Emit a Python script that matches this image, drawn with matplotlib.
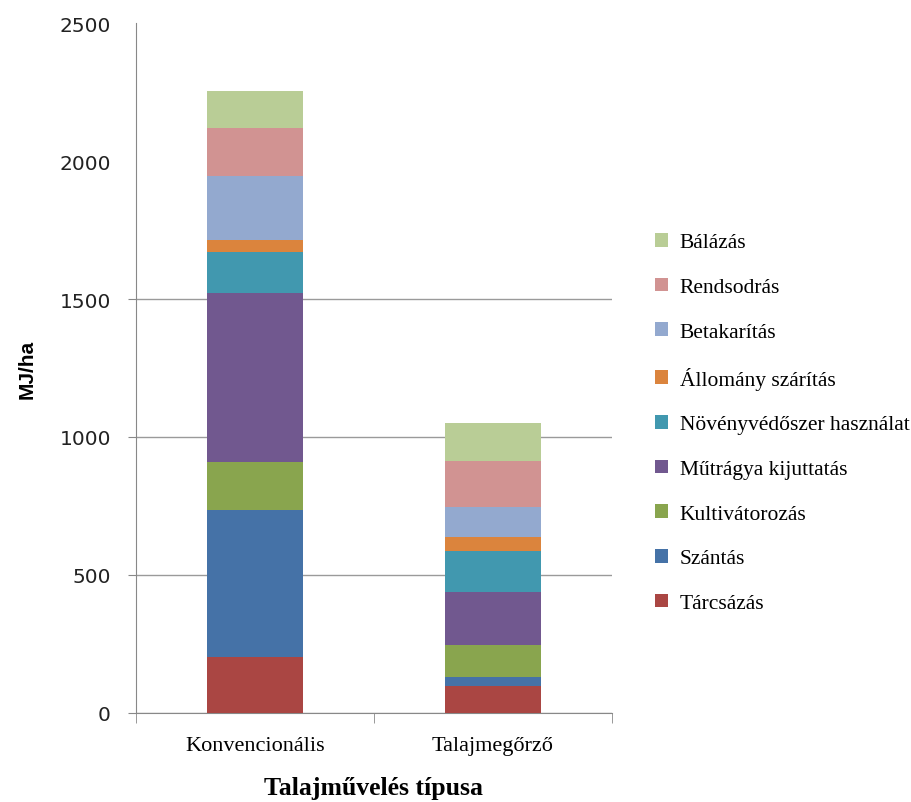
import numpy as np
import matplotlib.pyplot as plt

categories = ['Konvencionális', 'Talajmegőrző']
series = ['Tárcsázás', 'Szántás', 'Kultivátorozás', 'Műtrágya kijuttatás',
          'Növényvédőszer használat', 'Állomány szárítás', 'Betakarítás',
          'Rendsodrás', 'Bálázás']
values_konv = [202, 534, 172, 615, 149, 42, 232, 172, 135]
values_talaj = [98, 33, 115, 193, 147, 53, 107, 166, 139]
colors = ['#AA4643', '#4572A7', '#89A54E', '#71588F', '#4198AF',
          '#DB843D', '#93A9CF', '#D19392', '#B9CD96']

fig = plt.figure(figsize=(9.12, 8.03), dpi=100)
ax = fig.add_axes([0.149, 0.111, 0.522, 0.859])

x = np.arange(len(categories))
data = np.array([values_konv, values_talaj]).T
bottom = np.zeros(len(categories))
handles = []
for i in range(len(series)):
    b = ax.bar(x, data[i], 0.4, bottom=bottom, color=colors[i], label=series[i], zorder=3)
    handles.append(b)
    bottom += data[i]

ax.set_xlim(-0.5, 1.5)
ax.set_ylim(0, 2500)
ax.set_yticks(np.arange(0, 2501, 500))
ax.yaxis.grid(True, color='#9a9a9a', lw=1)
ax.set_axisbelow(True)
# no tick marks / gridlines above 1500 in the original
for t in ax.yaxis.get_major_ticks()[4:]:
    t.tick1line.set_visible(False)
    t.gridline.set_visible(False)
ax.tick_params(axis='y', length=6, color='#888888', pad=12, labelsize=14.5, labelcolor='#222222')

ax.set_xticks(x)
ax.set_xticklabels(categories, family='Liberation Serif', fontsize=16)
ax.tick_params(axis='x', length=0, pad=17)
ax.set_xticks([-0.5, 0.5, 1.5], minor=True)
ax.tick_params(axis='x', which='minor', length=7, color='#888888')

for s in ['top', 'right']:
    ax.spines[s].set_visible(False)
for s in ['left', 'bottom']:
    ax.spines[s].set_color('#888888')

ax.set_xlabel('Talajművelés típusa', family='Liberation Serif', fontsize=18.5,
              fontweight='bold', labelpad=15)
fig.text(0.03, 0.54, 'MJ/ha', rotation=90, fontsize=15, fontweight='bold',
         family='Liberation Sans', va='center', ha='center')

leg = fig.legend(handles[::-1], series[::-1], loc='center left',
                 bbox_to_anchor=(0.718, 0.472), frameon=False,
                 prop={'family': 'Liberation Serif', 'size': 15.5},
                 borderpad=0, borderaxespad=0, labelspacing=1.17,
                 handlelength=0.6, handleheight=0.6, handletextpad=0.55)

fig.savefig('out.png', dpi=100)
